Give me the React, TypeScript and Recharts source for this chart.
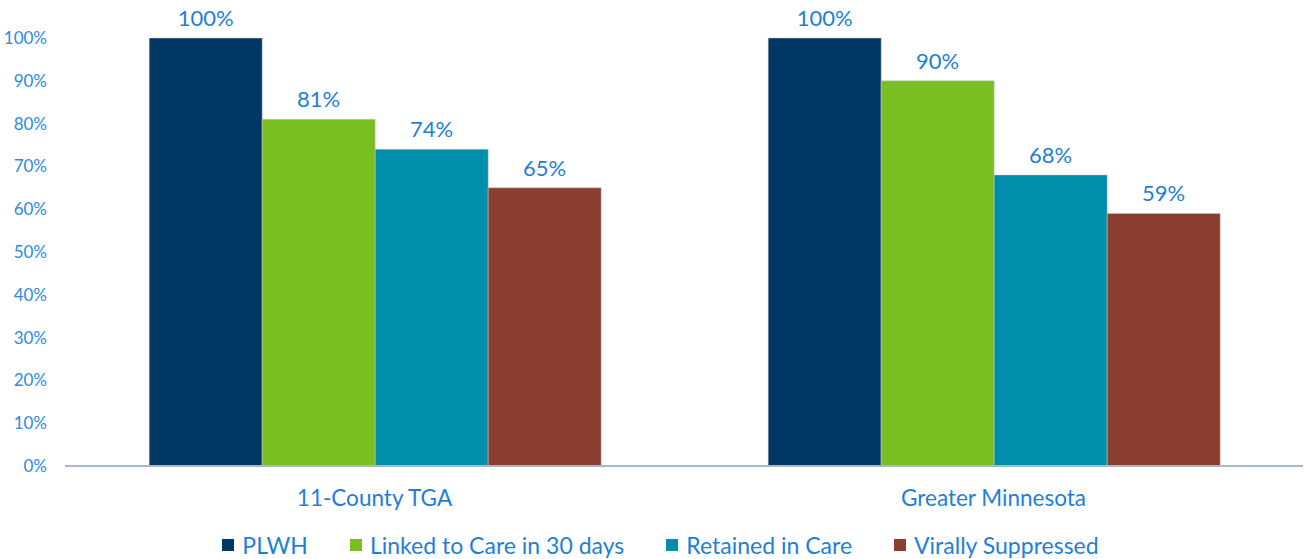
import { BarChart, Bar, XAxis, YAxis, Legend, LabelList } from 'recharts'

const regions = ['11-County TGA', 'Greater Minnesota']
const plwh = [100, 100]
const linked = [81, 90]
const retained = [74, 68]
const suppressed = [65, 59]
const yTicks = [0, 10, 20, 30, 40, 50, 60, 70, 80, 90, 100]

const seriesNames = ['PLWH', 'Linked to Care in 30 days', 'Retained in Care', 'Virally Suppressed']
const seriesColors = ['#003764', '#7ABF22', '#008FAB', '#8B3E2F']

const data = regions.map((r, i) => ({
  region: r,
  [seriesNames[0]]: plwh[i],
  [seriesNames[1]]: linked[i],
  [seriesNames[2]]: retained[i],
  [seriesNames[3]]: suppressed[i],
}))

const font = 'Lato, "Open Sans", sans-serif'
const blue = '#1F7FD6'

function LegendRow() {
  return (
    <div style={{ display: 'flex', justifyContent: 'center', gap: 42, fontFamily: font, fontSize: 23, color: blue, paddingLeft: 18, paddingTop: 7 }}>
      {seriesNames.map((n, i) => (
        <div key={n} style={{ display: 'flex', alignItems: 'center' }}>
          <span style={{ width: 12, height: 12, background: seriesColors[i], display: 'inline-block', marginRight: 8 }} />
          <span>{n}</span>
        </div>
      ))}
    </div>
  )
}

export default function App() {
  return (
    <div style={{ position: 'absolute', left: 0, top: 0, background: '#fff' }}>
      <BarChart width={1304} height={559} data={data} margin={{ top: 38, right: 1, left: 0, bottom: 0 }} barCategoryGap="13.6%" barGap={0}>
        <XAxis
          dataKey="region"
          axisLine={{ stroke: '#A9B8C8', strokeWidth: 2 }}
          tickLine={false}
          tickSize={0}
          tickMargin={24}
          height={58}
          tick={{ fill: blue, fontSize: 22.5, fontFamily: font }}
        />
        <YAxis
          width={65}
          domain={[0, 100]}
          ticks={yTicks}
          tickFormatter={v => `${v}%`}
          axisLine={false}
          tickLine={false}
          tickSize={0}
          tickMargin={18}
          tick={{ fill: '#2E8BE0', fontSize: 17, fontFamily: font }}
        />
        <Legend verticalAlign="bottom" height={35} content={<LegendRow />} />
        {seriesNames.map((n, i) => (
          <Bar key={n} dataKey={n} fill={seriesColors[i]} stroke="#c8c8c8" strokeWidth={0.5} isAnimationActive={false}>
            <LabelList dataKey={n} position="top" offset={12} formatter={(v: number) => `${v}%`} fill={blue} fontSize={22} fontFamily={font} />
          </Bar>
        ))}
      </BarChart>
    </div>
  )
}
